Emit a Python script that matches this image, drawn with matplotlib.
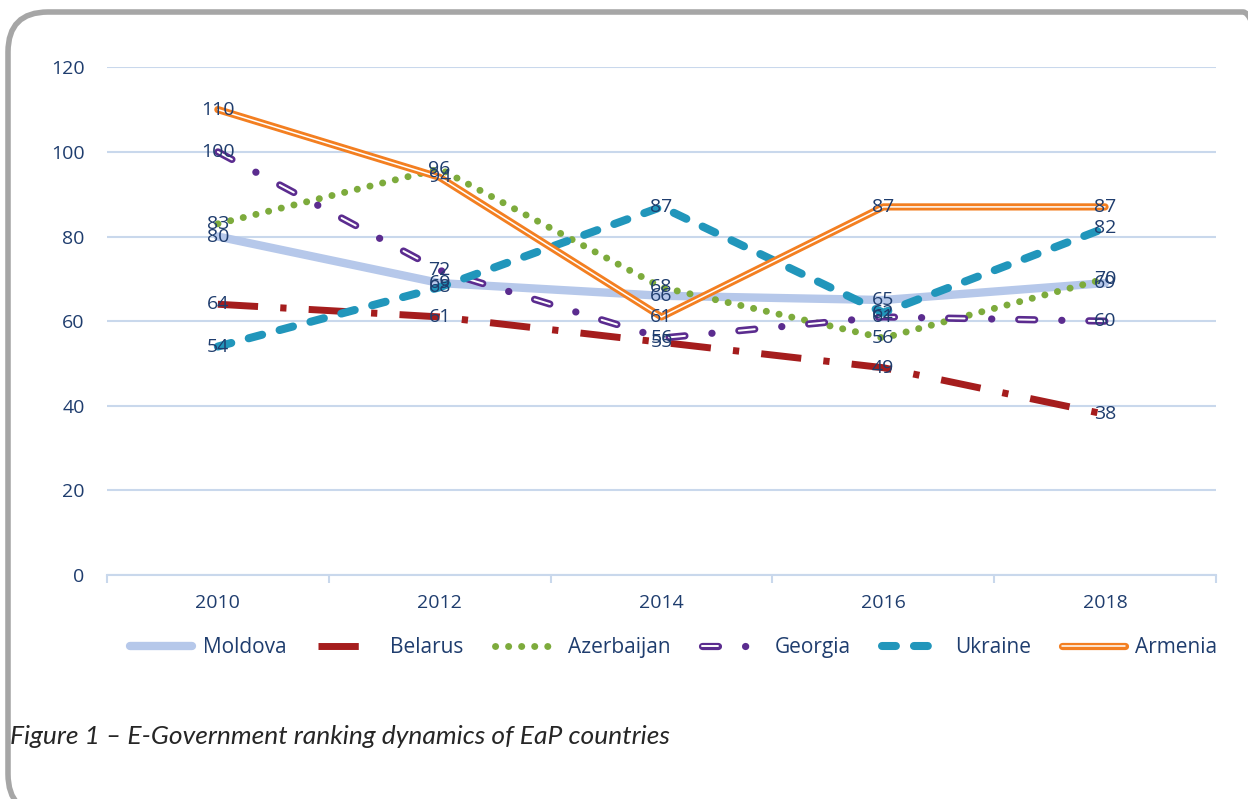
import matplotlib
matplotlib.use("Agg")
import matplotlib.pyplot as plt
from matplotlib.patches import FancyBboxPatch

plt.rcParams['font.family'] = ['Open Sans', 'DejaVu Sans']
plt.rcParams['lines.scale_dashes'] = False

# E-Government ranking per country and year
years = ['2010', '2012', '2014', '2016', '2018']
moldova = [80, 69, 66, 65, 69]
belarus = [64, 61, 55, 49, 38]
azerbaijan = [83, 96, 68, 56, 70]
georgia = [100, 72, 56, 61, 60]
ukraine = [54, 68, 87, 62, 82]
armenia = [110, 94, 61, 87, 87]

navy = '#1f3d6e'
grid_color = '#c9d8ec'

fig = plt.figure(figsize=(12.48, 7.99), dpi=100)
ax = fig.add_axes([0.0857, 0.2803, 0.8886, 0.6355])
x = list(range(len(years)))

# series lines
l_mol, = ax.plot(x, moldova, color='#b6c8ea', lw=6, solid_capstyle='round', zorder=3)
l_bel, = ax.plot(x, belarus, color='#a51d1d', lw=5, dash_capstyle='butt',
                 dashes=(29, 16, 4.5, 16), zorder=4)
l_aze, = ax.plot(x, azerbaijan, color='#7dab3c', lw=5, dash_capstyle='round',
                 dashes=(0.1, 9.3), zorder=5)
l_geo, = ax.plot(x, georgia, color='#5b2c8f', lw=5.2, dash_capstyle='round',
                 dashes=(11.5, 19.5, 0.1, 19.4), zorder=6)
l_geo_in, = ax.plot(x, georgia, color='white', lw=1.4, dash_capstyle='round',
                    dashes=(11.5, 39.0), zorder=6.1)
l_ukr, = ax.plot(x, ukraine, color='#2196bb', lw=5.8, dash_capstyle='round',
                 dashes=(10, 13), zorder=7)
l_arm, = ax.plot(x, armenia, color='#f37f21', lw=5.2, solid_capstyle='round', zorder=8)
l_arm_in, = ax.plot(x, armenia, color='white', lw=1.1, solid_capstyle='round', zorder=8.1)

# value labels centred on the points
for series in [moldova, belarus, azerbaijan, georgia, ukraine, armenia]:
    for xi, v in zip(x, series):
        ax.text(xi, v, str(v), ha='center', va='center', fontsize=14,
                color=navy, zorder=10)

ax.set_xlim(-0.5, len(years) - 0.5)
ax.set_ylim(0, 120)
ax.set_yticks(range(0, 121, 20))
ax.set_xticks(x)
ax.set_xticklabels(years)
ax.set_xticks([i - 0.5 for i in range(len(years) + 1)], minor=True)
ax.tick_params(axis='y', length=0, pad=16, labelsize=14, labelcolor=navy)
ax.tick_params(axis='x', which='major', length=0, pad=14, labelsize=14, labelcolor=navy)
ax.tick_params(axis='x', which='minor', length=6, width=1.5, color=grid_color)

ax.yaxis.grid(True, color=grid_color, lw=1.5)
ax.set_axisbelow(True)
for side in ['top', 'right', 'left']:
    ax.spines[side].set_visible(False)
ax.spines['bottom'].set_color(grid_color)
ax.spines['bottom'].set_linewidth(1.5)

handles = [l_mol, l_bel, l_aze, (l_geo, l_geo_in), l_ukr, (l_arm, l_arm_in)]
labels = ['Moldova', 'Belarus', 'Azerbaijan', 'Georgia', 'Ukraine', 'Armenia']
fig.legend(handles, labels, loc='center', bbox_to_anchor=(0.5397, 0.189), ncol=6,
           frameon=False, fontsize=15, handlelength=3.0, columnspacing=1.5,
           handletextpad=0.5, labelcolor=navy)

fig.text(0.008, 0.0776, 'Figure 1 \u2013 E-Government ranking dynamics of EaP countries',
         fontsize=19, style='italic', color='#262626', va='center', ha='left',
         family=['Lato', 'DejaVu Sans'])

# rounded grey frame running off the right and bottom edges (pixel coords from bottom-left)
frame = FancyBboxPatch((8, -15), 1275, 802, boxstyle="round,pad=0,rounding_size=40",
                       transform=None, facecolor='none', edgecolor='#a6a6a6',
                       linewidth=4, clip_on=False)
fig.patches.append(frame)

fig.savefig('out.png', dpi=100, facecolor='white')
